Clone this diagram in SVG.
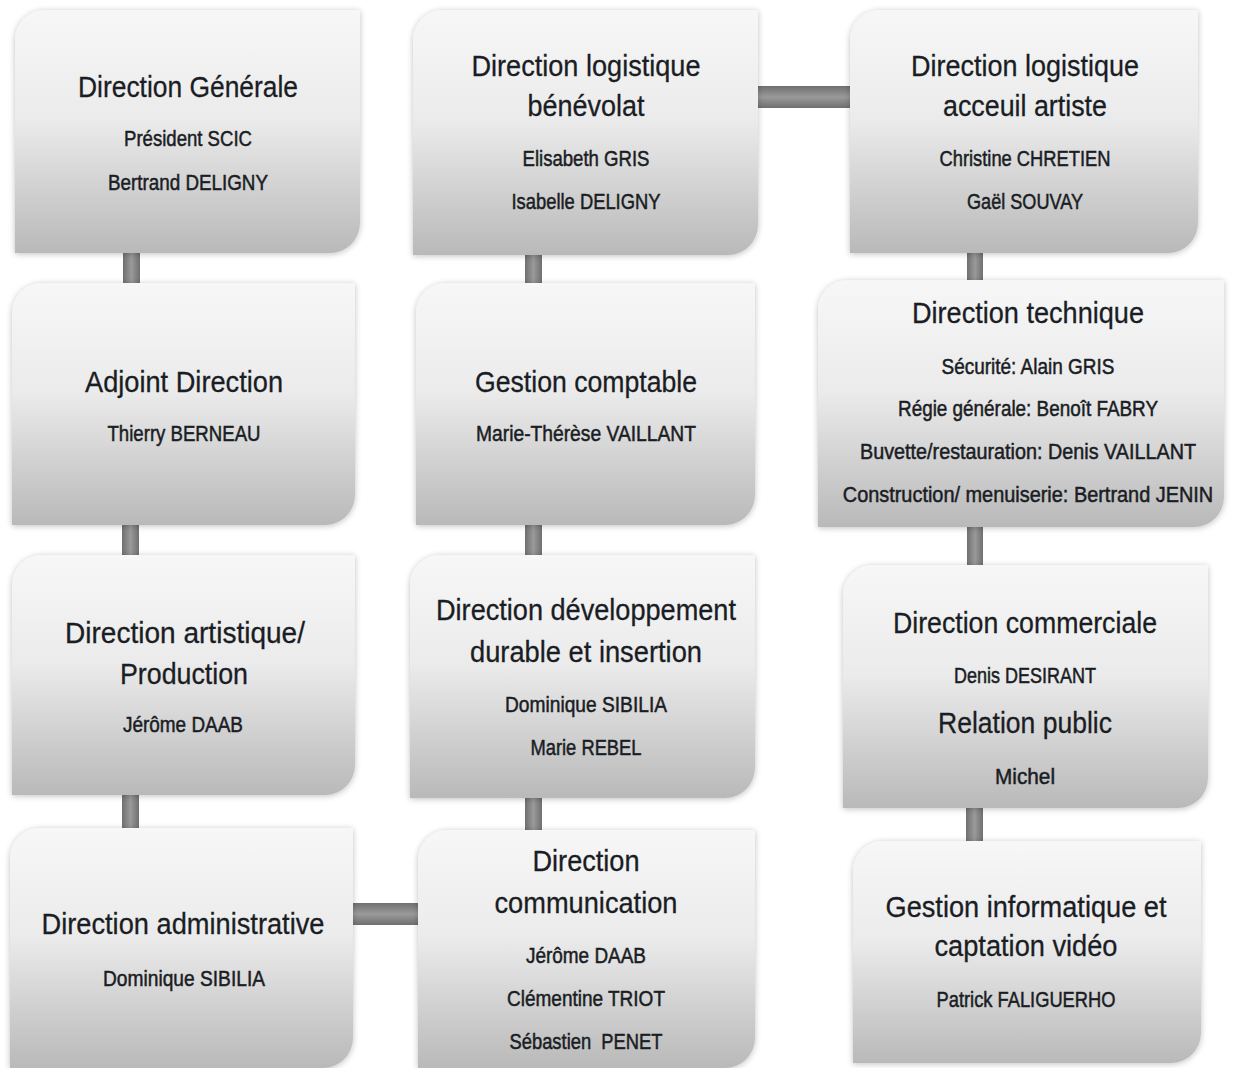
<svg xmlns="http://www.w3.org/2000/svg" width="1238" height="1068" viewBox="0 0 1238 1068">
<defs>
<linearGradient id="boxGrad" x1="0" y1="0" x2="0" y2="1">
<stop offset="0" stop-color="#f7f7f7"/>
<stop offset="0.45" stop-color="#ebebeb"/>
<stop offset="1" stop-color="#b9b9b9"/>
</linearGradient>
<linearGradient id="vConn" x1="0" y1="0" x2="1" y2="0">
<stop offset="0" stop-color="#6f6f6f"/>
<stop offset="0.5" stop-color="#9a9a9a"/>
<stop offset="1" stop-color="#6f6f6f"/>
</linearGradient>
<linearGradient id="hConn" x1="0" y1="0" x2="0" y2="1">
<stop offset="0" stop-color="#6f6f6f"/>
<stop offset="0.5" stop-color="#9a9a9a"/>
<stop offset="1" stop-color="#6f6f6f"/>
</linearGradient>
<filter id="soft" x="-5%" y="-5%" width="110%" height="110%">
<feGaussianBlur in="SourceAlpha" stdDeviation="3"/>
<feOffset dx="0" dy="1"/>
<feComponentTransfer><feFuncA type="linear" slope="0.25"/></feComponentTransfer>
<feMerge><feMergeNode/><feMergeNode in="SourceGraphic"/></feMerge>
</filter>
</defs>
<style>
.box{fill:url(#boxGrad);filter:url(#soft);}
.t{font-family:"Liberation Sans Narrow","Liberation Sans",Arial,sans-serif;font-size:30px;fill:#1a1d24;stroke:#1a1d24;stroke-width:0.3;text-anchor:middle;}
.s{font-family:"Liberation Sans Narrow","Liberation Sans",Arial,sans-serif;font-size:22px;fill:#1a1d24;stroke:#1a1d24;stroke-width:0.5;text-anchor:middle;}
.vc{fill:url(#vConn);}
.hc{fill:url(#hConn);}
</style>
<rect width="1238" height="1068" fill="#ffffff"/>

<g id="connectors">
<rect class="vc" x="123" y="253" width="17" height="30"/>
<rect class="vc" x="122" y="525" width="17" height="30"/>
<rect class="vc" x="122" y="795" width="17" height="33"/>
<rect class="vc" x="525" y="255" width="17" height="28"/>
<rect class="vc" x="525" y="525" width="17" height="30"/>
<rect class="vc" x="525" y="798" width="17" height="32"/>
<rect class="vc" x="967" y="253" width="16" height="27"/>
<rect class="vc" x="967" y="527" width="16" height="38"/>
<rect class="vc" x="966" y="808" width="17" height="33"/>
<rect class="hc" x="758" y="86" width="92" height="22"/>
<rect class="hc" x="353" y="903" width="65" height="22"/>
</g>

<g id="n-direction-generale">
<path class="box" d="M45,10 H360 V223 A30,30 0 0 1 330,253 H15 V40 A30,30 0 0 1 45,10 Z"/>
<text class="t" x="188" y="97" textLength="220" lengthAdjust="spacingAndGlyphs">Direction Générale</text>
<text class="s" x="188" y="146" textLength="128" lengthAdjust="spacingAndGlyphs">Président SCIC</text>
<text class="s" x="188" y="190" textLength="160" lengthAdjust="spacingAndGlyphs">Bertrand DELIGNY</text>
</g>

<g id="n-adjoint-direction">
<path class="box" d="M42,283 H355 V495 A30,30 0 0 1 325,525 H12 V313 A30,30 0 0 1 42,283 Z"/>
<text class="t" x="184" y="392" textLength="198" lengthAdjust="spacingAndGlyphs">Adjoint Direction</text>
<text class="s" x="184" y="441" textLength="153" lengthAdjust="spacingAndGlyphs">Thierry BERNEAU</text>
</g>

<g id="n-direction-artistique">
<path class="box" d="M42,555 H355 V765 A30,30 0 0 1 325,795 H12 V585 A30,30 0 0 1 42,555 Z"/>
<text class="t" x="185" y="643" textLength="240" lengthAdjust="spacingAndGlyphs">Direction artistique/</text>
<text class="t" x="184" y="684" textLength="128" lengthAdjust="spacingAndGlyphs">Production</text>
<text class="s" x="183" y="732" textLength="120" lengthAdjust="spacingAndGlyphs">Jérôme DAAB</text>
</g>

<g id="n-direction-administrative">
<path class="box" d="M40,828 H353 V1038 A30,30 0 0 1 323,1068 H10 V858 A30,30 0 0 1 40,828 Z"/>
<text class="t" x="183" y="934" textLength="283" lengthAdjust="spacingAndGlyphs">Direction administrative</text>
<text class="s" x="184" y="986" textLength="162" lengthAdjust="spacingAndGlyphs">Dominique SIBILIA</text>
</g>

<g id="n-logistique-benevolat">
<path class="box" d="M443,10 H758 V225 A30,30 0 0 1 728,255 H413 V40 A30,30 0 0 1 443,10 Z"/>
<text class="t" x="586" y="76" textLength="229" lengthAdjust="spacingAndGlyphs">Direction logistique</text>
<text class="t" x="586" y="116" textLength="117" lengthAdjust="spacingAndGlyphs">bénévolat</text>
<text class="s" x="586" y="166" textLength="127" lengthAdjust="spacingAndGlyphs">Elisabeth GRIS</text>
<text class="s" x="586" y="209" textLength="149" lengthAdjust="spacingAndGlyphs">Isabelle DELIGNY</text>
</g>

<g id="n-gestion-comptable">
<path class="box" d="M446,283 H755 V495 A30,30 0 0 1 725,525 H416 V313 A30,30 0 0 1 446,283 Z"/>
<text class="t" x="586" y="392" textLength="222" lengthAdjust="spacingAndGlyphs">Gestion comptable</text>
<text class="s" x="586" y="441" textLength="220" lengthAdjust="spacingAndGlyphs">Marie-Thérèse VAILLANT</text>
</g>

<g id="n-developpement-durable">
<path class="box" d="M440,555 H755 V768 A30,30 0 0 1 725,798 H410 V585 A30,30 0 0 1 440,555 Z"/>
<text class="t" x="586" y="620" textLength="300" lengthAdjust="spacingAndGlyphs">Direction développement</text>
<text class="t" x="586" y="662" textLength="232" lengthAdjust="spacingAndGlyphs">durable et insertion</text>
<text class="s" x="586" y="712" textLength="162" lengthAdjust="spacingAndGlyphs">Dominique SIBILIA</text>
<text class="s" x="586" y="755" textLength="111" lengthAdjust="spacingAndGlyphs">Marie REBEL</text>
</g>

<g id="n-direction-communication">
<path class="box" d="M448,830 H755 V1038 A30,30 0 0 1 725,1068 H418 V860 A30,30 0 0 1 448,830 Z"/>
<text class="t" x="586" y="871" textLength="107" lengthAdjust="spacingAndGlyphs">Direction</text>
<text class="t" x="586" y="913" textLength="183" lengthAdjust="spacingAndGlyphs">communication</text>
<text class="s" x="586" y="963" textLength="120" lengthAdjust="spacingAndGlyphs">Jérôme DAAB</text>
<text class="s" x="586" y="1006" textLength="158" lengthAdjust="spacingAndGlyphs">Clémentine TRIOT</text>
<text class="s" x="586" y="1049" textLength="153" lengthAdjust="spacingAndGlyphs" xml:space="preserve">Sébastien  PENET</text>
</g>

<g id="n-logistique-accueil">
<path class="box" d="M880,10 H1198 V223 A30,30 0 0 1 1168,253 H850 V40 A30,30 0 0 1 880,10 Z"/>
<text class="t" x="1025" y="76" textLength="228" lengthAdjust="spacingAndGlyphs">Direction logistique</text>
<text class="t" x="1025" y="116" textLength="164" lengthAdjust="spacingAndGlyphs">acceuil artiste</text>
<text class="s" x="1025" y="166" textLength="171" lengthAdjust="spacingAndGlyphs">Christine CHRETIEN</text>
<text class="s" x="1025" y="209" textLength="116" lengthAdjust="spacingAndGlyphs">Gaël SOUVAY</text>
</g>

<g id="n-direction-technique">
<path class="box" d="M848,280 H1224 V497 A30,30 0 0 1 1194,527 H818 V310 A30,30 0 0 1 848,280 Z"/>
<text class="t" x="1028" y="323" textLength="232" lengthAdjust="spacingAndGlyphs">Direction technique</text>
<text class="s" x="1028" y="374" textLength="173" lengthAdjust="spacingAndGlyphs">Sécurité: Alain GRIS</text>
<text class="s" x="1028" y="416" textLength="260" lengthAdjust="spacingAndGlyphs">Régie générale: Benoît FABRY</text>
<text class="s" transform="translate(1028,459) scale(0.9,1)" x="0" y="0">Buvette/restauration: Denis VAILLANT</text>
<text class="s" transform="translate(1028,502) scale(0.905,1)" x="0" y="0">Construction/ menuiserie: Bertrand JENIN</text>
</g>

<g id="n-direction-commerciale">
<path class="box" d="M873,565 H1208 V778 A30,30 0 0 1 1178,808 H843 V595 A30,30 0 0 1 873,565 Z"/>
<text class="t" x="1025" y="633" textLength="264" lengthAdjust="spacingAndGlyphs">Direction commerciale</text>
<text class="s" x="1025" y="683" textLength="142" lengthAdjust="spacingAndGlyphs">Denis DESIRANT</text>
<text class="t" x="1025" y="733" textLength="174" lengthAdjust="spacingAndGlyphs">Relation public</text>
<text class="s" x="1025" y="784" textLength="60" lengthAdjust="spacingAndGlyphs">Michel</text>
</g>

<g id="n-gestion-informatique">
<path class="box" d="M883,841 H1201 V1033 A30,30 0 0 1 1171,1063 H853 V871 A30,30 0 0 1 883,841 Z"/>
<text class="t" x="1026" y="917" textLength="281" lengthAdjust="spacingAndGlyphs">Gestion informatique et</text>
<text class="t" x="1026" y="956" textLength="183" lengthAdjust="spacingAndGlyphs">captation vidéo</text>
<text class="s" x="1026" y="1007" textLength="179" lengthAdjust="spacingAndGlyphs">Patrick FALIGUERHO</text>
</g>
</svg>
